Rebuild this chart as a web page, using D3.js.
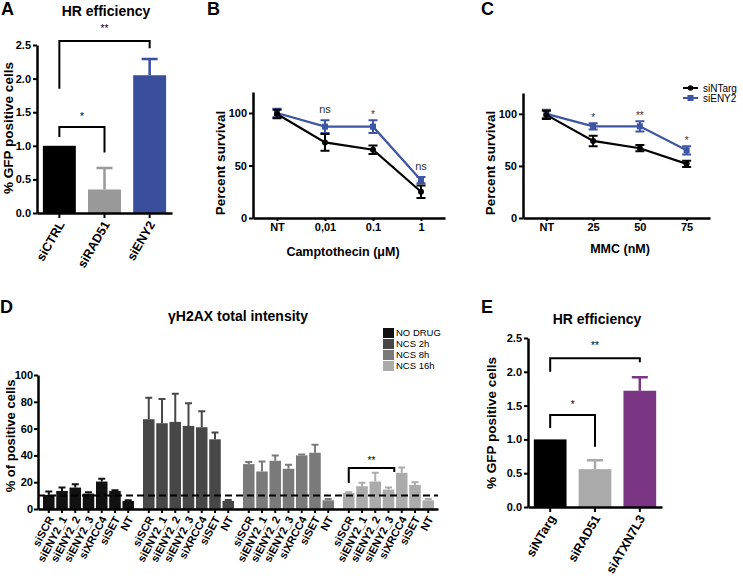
<!DOCTYPE html>
<html>
<head>
<meta charset="utf-8">
<script src="https://cdn.jsdelivr.net/npm/d3@7"></script>
<style>
  body { margin: 0; background: #fff; }
  svg { display: block; font-family: 'Liberation Sans', Arial, sans-serif; }
</style>
</head>
<body>
<div id="chart"></div>
<script>
// ---- panel A : HR efficiency (siENY2)
const hrCatsA = ['siCTRL', 'siRAD51', 'siENY2'];
const hrValsA = [1.0, 0.35, 2.05];
const hrErrA = [0, 0.32, 0.24];

// ---- panel E : HR efficiency (siATXN7L3)
const hrCatsE = ['siNTarg', 'siRAD51', 'siATXN7L3'];
const hrValsE = [1.0, 0.56, 1.72];
const hrErrE = [0, 0.13, 0.2];

const hrTicks = [0, 0.5, 1.0, 1.5, 2.0, 2.5];

// ---- panel B : camptothecin survival
const cptDoses = ['NT', '0,01', '0.1', '1'];
const cptNTarg = [99, 72, 65, 25];
const cptNTargErr = [4, 8, 4, 6];
const cptENY2 = [100, 87, 87, 36];
const cptENY2Err = [4, 6, 6, 3];
const cptSig = ['', 'ns', '*', 'ns'];

// ---- panel C : MMC survival
const mmcDoses = ['NT', '25', '50', '75'];
const mmcNTarg = [99, 74, 67, 52];
const mmcNTargErr = [4, 5, 3, 3];
const mmcENY2 = [100, 88, 88, 65];
const mmcENY2Err = [4, 3, 5, 4];
const mmcSig = ['', '*', '**', '*'];

const survTicks = [0, 50, 100];

// ---- panel D : gH2AX total intensity
const siRNAs = ['siSCR', 'siENY2_1', 'siENY2_2', 'siENY2_3', 'siXRCC4', 'siSET', 'NT'];
const treatments = ['NO DRUG', 'NCS 2h', 'NCS 8h', 'NCS 16h'];
const noDrug = [10.5, 13.5, 16, 11.5, 20.5, 13.5, 6];
const noDrugErr = [2.5, 2.5, 2.5, 1, 2, 0.5, 0.5];
const ncs2h = [67, 64, 65, 62, 61, 52, 6];
const ncs2hErr = [16, 18, 21, 17, 12, 5, 0.7];
const ncs8h = [33.5, 28, 36, 30, 40, 42, 6.5];
const ncs8hErr = [1.5, 7.5, 4, 3, 0.7, 6, 1];
const ncs16h = [12, 17, 20.5, 14.5, 27, 18, 6.5];
const ncs16hErr = [0.5, 2.5, 6.5, 1.5, 4, 2, 1];
const gTicks = [0, 20, 40, 60, 80, 100];
const threshold = 10;

const svg = d3.select('#chart').append('svg').attr('width', 743).attr('height', 580);

// prism-like axis look
function styleAxis(g, size) {
  g.attr('font-family', null).attr('font-size', null);
  g.select('.domain').attr('stroke', '#000').attr('stroke-width', 2.5);
  g.selectAll('.tick line').attr('stroke', '#000').attr('stroke-width', 2);
  g.selectAll('.tick text').attr('fill', '#000').style('font-weight', 'bold').style('font-size', size + 'px');
}

function letter(t, x, y) {
  svg.append('text').attr('x', x).attr('y', y).text(t).attr('fill', '#000')
    .style('font-size', '18px').style('font-weight', 'bold');
}

function title(t, x, y, size) {
  svg.append('text').attr('x', x).attr('y', y).attr('text-anchor', 'middle').text(t).attr('fill', '#000')
    .style('font-size', size + 'px').style('font-weight', 'bold');
}

function yLabel(t, x, y, size) {
  svg.append('text').attr('transform', `translate(${x},${y}) rotate(-90)`)
    .attr('text-anchor', 'middle').text(t).attr('fill', '#000')
    .style('font-size', size + 'px').style('font-weight', 'bold');
}

// bracket with significance stars
function bracket(g, x1, x2, yTop, yL, yR, label, yLab) {
  g.append('path')
    .attr('d', `M${x1},${yL}V${yTop}H${x2}V${yR}`)
    .attr('fill', 'none').attr('stroke', '#000').attr('stroke-width', 2);
  g.append('text').attr('x', (x1 + x2) / 2).attr('y', yLab).attr('text-anchor', 'middle')
    .attr('fill', '#000').text(label).style('font-size', '10px');
}

/*
  HR efficiency bar chart (A, E)
*/
function hrPanel(o) {
  const g = svg.append('g');
  const x = d3.scaleBand().domain(o.cats).range([o.x0, o.x1]).paddingInner(0.27).paddingOuter(0.13);
  const y = d3.scaleLinear().domain([0, 2.5]).range([o.y0, o.y1]);
  const cx = (d) => x(d) + x.bandwidth() / 2;

  g.selectAll('rect').data(o.cats).join('rect')
    .attr('x', (d) => x(d))
    .attr('y', (d, i) => y(o.vals[i]))
    .attr('width', x.bandwidth())
    .attr('height', (d, i) => y(0) - y(o.vals[i]))
    .attr('fill', (d, i) => o.colors[i]);

  // error bars, upper only
  o.cats.forEach((d, i) => {
    if (!o.errs[i]) return;
    const top = y(o.vals[i] + o.errs[i]);
    g.append('path')
      .attr('d', `M${cx(d)},${y(o.vals[i])}V${top}M${cx(d) - 8},${top}H${cx(d) + 8}`)
      .attr('stroke', o.colors[i]).attr('stroke-width', 2.5).attr('fill', 'none');
  });

  g.append('g').attr('transform', `translate(0,${o.y0})`)
    .call(d3.axisBottom(x).tickSize(5).tickSizeOuter(0))
    .call((a) => styleAxis(a, 12.5))
    .call((a) => a.selectAll('.tick text')
      .attr('y', 0).attr('dy', '0.35em')
      .attr('transform', 'translate(2,9) rotate(-60)')
      .attr('text-anchor', 'end'));

  g.append('g').attr('transform', `translate(${o.x0},0)`)
    .call(d3.axisLeft(y).tickValues(hrTicks).tickFormat(d3.format('.1f')).tickSize(4).tickSizeOuter(0).tickPadding(2))
    .call((a) => styleAxis(a, 11));

  o.brackets.forEach((b) => {
    bracket(g, cx(o.cats[b.from]), cx(o.cats[b.to]), y(b.top), y(b.left), y(b.right), b.label, y(b.lab));
  });
}

/*
  survival line chart (B, C)
*/
function survivalPanel(o) {
  const g = svg.append('g');
  const x = d3.scalePoint().domain(o.doses).range([o.x0, o.x1]).padding(0.5);
  const y = d3.scaleLinear().domain([0, 120]).range([o.y0, o.y1]);

  g.append('g').attr('transform', `translate(0,${o.y0})`)
    .call(d3.axisBottom(x).tickSize(3).tickSizeOuter(0).tickPadding(2))
    .call((a) => styleAxis(a, 11));
  g.append('g').attr('transform', `translate(${o.x0},0)`)
    .call(d3.axisLeft(y).tickValues(survTicks).tickSize(4).tickSizeOuter(0).tickPadding(2))
    .call((a) => styleAxis(a, 11));

  const line = d3.line().x((d, i) => x(o.doses[i])).y((d) => y(d));

  o.series.forEach((s) => {
    g.append('path').datum(s.vals).attr('d', line)
      .attr('fill', 'none').attr('stroke', s.color).attr('stroke-width', 2.2);
    s.vals.forEach((v, i) => {
      const px = x(o.doses[i]);
      const lo = y(v - s.errs[i]);
      const hi = y(v + s.errs[i]);
      g.append('path')
        .attr('d', `M${px},${lo}V${hi}M${px - 4.5},${lo}H${px + 4.5}M${px - 4.5},${hi}H${px + 4.5}`)
        .attr('stroke', s.color).attr('stroke-width', 2).attr('fill', 'none');
      if (s.shape === 'square') {
        g.append('rect').attr('x', px - 3).attr('y', y(v) - 3).attr('width', 6).attr('height', 6).attr('fill', s.color);
      } else {
        g.append('circle').attr('cx', px).attr('cy', y(v)).attr('r', 3).attr('fill', s.color);
      }
    });
  });

  // significance above the siENY2 points
  const top = o.series[0];
  o.sig.forEach((t, i) => {
    if (!t) return;
    g.append('text')
      .attr('x', x(o.doses[i]))
      .attr('y', y(top.vals[i] + top.errs[i]) - (t === 'ns' ? 7 : 2))
      .attr('text-anchor', 'middle').text(t).attr('fill', '#333')
      .style('font-size', t === 'ns' ? '11px' : '10px');
  });

  g.append('text').attr('x', o.labX).attr('y', o.labY).attr('text-anchor', 'middle').attr('fill', '#000')
    .text(o.xLabel).style('font-size', '12.5px').style('font-weight', 'bold');

  if (o.legend) {
    const lg = g.append('g').attr('transform', `translate(${o.legend.x},${o.legend.y})`);
    [o.series[1], o.series[0]].forEach((s, i) => {
      const r = lg.append('g').attr('transform', `translate(0,${i * 10})`);
      r.append('line').attr('x1', 0).attr('x2', 15).attr('stroke', s.color).attr('stroke-width', 2);
      if (s.shape === 'square') {
        r.append('rect').attr('x', 4.5).attr('y', -3).attr('width', 6).attr('height', 6).attr('fill', s.color);
      } else {
        r.append('circle').attr('cx', 7.5).attr('r', 2.8).attr('fill', s.color);
      }
      r.append('text').attr('x', 20).attr('dy', '0.35em').attr('fill', '#000').text(s.name).style('font-size', '10px');
    });
  }
}

// ---- A
letter('A', 1, 15);
title('HR efficiency', 106, 16, 14);
yLabel('% GFP positive cells', 13, 128, 13.5);
hrPanel({
  cats: hrCatsA, vals: hrValsA, errs: hrErrA,
  colors: ['#000000', '#999999', '#3a4f9c'],
  x0: 37, x1: 172, y0: 213, y1: 45,
  brackets: [
    { from: 0, to: 2, top: 2.56, left: 1.85, right: 2.45, label: '**', lab: 2.7 },
    { from: 0, to: 1, top: 1.28, left: 1.13, right: 0.9, label: '*', lab: 1.39 },
  ],
});

// ---- B
letter('B', 207, 15);
yLabel('Percent survival', 225, 163, 13.5);
survivalPanel({
  doses: cptDoses,
  series: [
    { name: 'siENY2', vals: cptENY2, errs: cptENY2Err, color: '#3d55a3', shape: 'square' },
    { name: 'siNTarg', vals: cptNTarg, errs: cptNTargErr, color: '#000000', shape: 'circle' },
  ],
  sig: cptSig,
  x0: 253, x1: 445, y0: 218, y1: 92,
  xLabel: 'Camptothecin (\u03bcM)', labX: 343, labY: 256,
});

// ---- C
letter('C', 481, 15);
yLabel('Percent survival', 495, 163, 13.5);
survivalPanel({
  doses: mmcDoses,
  series: [
    { name: 'siENY2', vals: mmcENY2, errs: mmcENY2Err, color: '#3d55a3', shape: 'square' },
    { name: 'siNTarg', vals: mmcNTarg, errs: mmcNTargErr, color: '#000000', shape: 'circle' },
  ],
  sig: mmcSig,
  x0: 523, x1: 710, y0: 218, y1: 93,
  xLabel: 'MMC (nM)', labX: 620, labY: 253,
  legend: { x: 683, y: 88 },
});

// ---- D
letter('D', 0, 313);
title('\u03b3H2AX total intensity', 238, 321, 14);
yLabel('% of positive cells', 15, 436, 13);
(function () {
  const g = svg.append('g');
  const series = [
    { vals: noDrug, errs: noDrugErr, color: '#111111' },
    { vals: ncs2h, errs: ncs2hErr, color: '#474747' },
    { vals: ncs8h, errs: ncs8hErr, color: '#7a7a7a' },
    { vals: ncs16h, errs: ncs16hErr, color: '#ababab' },
  ];
  const y0 = 509;
  const y = d3.scaleLinear().domain([0, 100]).range([y0, 375]);
  const groups = d3.scaleBand().domain(treatments).range([43, 434]).paddingInner(0.09);
  const inner = d3.scaleBand().domain(siRNAs).range([0, groups.bandwidth()]).paddingInner(0.13);
  const bw = inner.bandwidth();

  treatments.forEach((t, k) => {
    const s = series[k];
    const gx = groups(t);
    const gg = g.append('g').attr('transform', `translate(${gx},0)`);
    gg.selectAll('rect').data(siRNAs).join('rect')
      .attr('x', (d) => inner(d))
      .attr('y', (d, i) => y(s.vals[i]))
      .attr('width', bw)
      .attr('height', (d, i) => y0 - y(s.vals[i]))
      .attr('fill', s.color);
    siRNAs.forEach((d, i) => {
      const cx = inner(d) + bw / 2;
      const top = y(s.vals[i] + s.errs[i]);
      gg.append('path')
        .attr('d', `M${cx},${y(s.vals[i])}V${top}M${cx - 3.5},${top}H${cx + 3.5}`)
        .attr('stroke', s.color).attr('stroke-width', 2).attr('fill', 'none');
    });
    // ticks + rotated labels per group
    gg.append('g').attr('transform', `translate(0,${y0})`)
      .call(d3.axisBottom(inner).tickSize(4).tickSizeOuter(0))
      .call((a) => a.select('.domain').remove())
      .call((a) => styleAxis(a, 11))
      .call((a) => a.selectAll('.tick text')
        .attr('y', 0).attr('dy', '0.35em')
        .attr('transform', 'translate(2,8) rotate(-62)')
        .attr('text-anchor', 'end'));
  });

  // axis lines
  g.append('g').attr('transform', `translate(0,${y0})`)
    .call(d3.axisBottom(d3.scaleLinear().range([38, 438])).tickValues([]).tickSizeOuter(0))
    .call((a) => styleAxis(a, 10));
  g.append('g').attr('transform', 'translate(38,0)')
    .call(d3.axisLeft(y).tickValues(gTicks).tickSize(4).tickSizeOuter(0).tickPadding(1))
    .call((a) => styleAxis(a, 11));

  // threshold
  g.append('line').attr('x1', 38).attr('x2', 438).attr('y1', y(threshold)).attr('y2', y(threshold))
    .attr('stroke', '#000').attr('stroke-width', 2).attr('stroke-dasharray', '7,4');

  // significance in the NCS 16h group
  const g16 = groups('NCS 16h');
  const bx1 = g16 + inner('siSCR') + bw / 2;
  const bx2 = g16 + inner('siENY2_3') + bw;
  bracket(g, bx1, bx2, y(30.6), y(19.4), y(27.6), '**', y(33.5));

  // legend
  const lg = g.append('g').attr('transform', 'translate(383,328)');
  treatments.forEach((t, i) => {
    lg.append('rect').attr('x', 0).attr('y', i * 11).attr('width', 11).attr('height', 10).attr('fill', series[i].color);
    lg.append('text').attr('x', 13).attr('y', i * 11 + 5).attr('dy', '0.35em').attr('fill', '#000')
      .text(t).style('font-size', '9.5px');
  });
})();

// ---- E
letter('E', 481, 313);
title('HR efficiency', 597, 324, 14);
yLabel('% GFP positive cells', 496, 423, 13.5);
hrPanel({
  cats: hrCatsE, vals: hrValsE, errs: hrErrE,
  colors: ['#000000', '#aaaaaa', '#7a3583'],
  x0: 528, x1: 662, y0: 507, y1: 338,
  brackets: [
    { from: 0, to: 2, top: 2.2, left: 2.0, right: 2.14, label: '**', lab: 2.33 },
    { from: 0, to: 1, top: 1.36, left: 1.17, right: 0.89, label: '*', lab: 1.47 },
  ],
});
</script>
</body>
</html>
